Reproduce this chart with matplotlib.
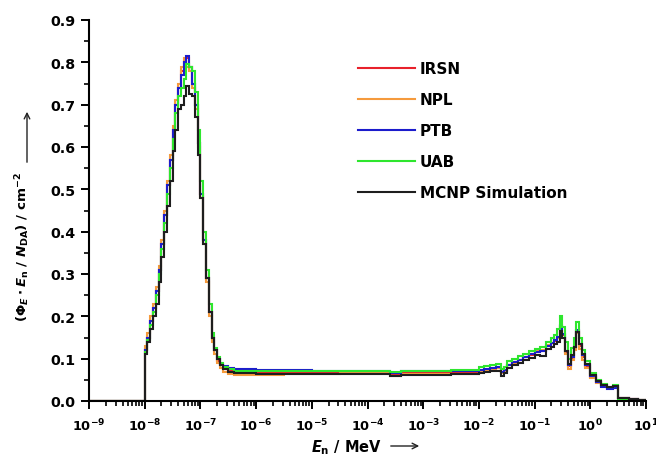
import numpy as np
import matplotlib
matplotlib.use('Agg')
import matplotlib.pyplot as plt
from matplotlib.ticker import LogLocator, MultipleLocator, FuncFormatter, NullFormatter

plt.rcParams['font.family'] = ['DejaVu Sans']
plt.rcParams['font.weight'] = 'bold'
plt.rcParams['mathtext.fontset'] = 'custom'
plt.rcParams['mathtext.rm'] = 'DejaVu Sans:bold'
plt.rcParams['mathtext.it'] = 'DejaVu Sans:italic:bold'
plt.rcParams['mathtext.bf'] = 'DejaVu Sans:bold'

# bin edges, log10(E / MeV)
log_edges = [-9.0,
             -8.0, -7.95, -7.9, -7.85, -7.8, -7.75, -7.7, -7.65, -7.6, -7.55,
             -7.5, -7.45, -7.4, -7.35, -7.3, -7.25, -7.2, -7.15, -7.1, -7.05,
             -7.0, -6.95, -6.9, -6.85, -6.8, -6.75, -6.7, -6.65,
             -6.6, -6.5, -6.4, -6.2, -6.0, -5.5, -5.0, -4.5, -4.0, -3.6, -3.4,
             -3.0, -2.5,
             -2.0, -1.9, -1.8, -1.7, -1.6, -1.55, -1.5, -1.4, -1.3, -1.2, -1.1,
             -1.0, -0.9, -0.8, -0.7, -0.65, -0.6, -0.55, -0.5, -0.45, -0.4,
             -0.35, -0.3, -0.25, -0.2, -0.15, -0.1, 0.0, 0.1, 0.2, 0.3, 0.4,
             0.5, 0.7, 0.85, 1.0]

irsn = [0.0,
        0.12, 0.15, 0.19, 0.22, 0.26, 0.31, 0.37, 0.44, 0.51, 0.57,
        0.64, 0.70, 0.74, 0.78, 0.80, 0.81, 0.79, 0.75, 0.70, 0.61,
        0.49, 0.38, 0.29, 0.21, 0.15, 0.12, 0.095, 0.085,
        0.076, 0.071, 0.069, 0.068, 0.068, 0.068, 0.068, 0.068, 0.068, 0.063, 0.067,
        0.067, 0.068,
        0.072, 0.074, 0.076, 0.079, 0.068, 0.072, 0.085, 0.091, 0.097, 0.103, 0.109,
        0.115, 0.118, 0.130, 0.136, 0.142, 0.150, 0.178, 0.155, 0.115, 0.082,
        0.102, 0.125, 0.165, 0.130, 0.104, 0.082, 0.057, 0.044, 0.035, 0.030, 0.033,
        0.007, 0.004, 0.002]

npl = [0.0,
       0.13, 0.16, 0.20, 0.23, 0.27, 0.32, 0.38, 0.45, 0.52, 0.58,
       0.65, 0.71, 0.75, 0.79, 0.81, 0.79, 0.78, 0.74, 0.69, 0.60,
       0.48, 0.37, 0.28, 0.20, 0.14, 0.11, 0.09, 0.078,
       0.068, 0.064, 0.062, 0.062, 0.062, 0.063, 0.064, 0.065, 0.065, 0.060, 0.064,
       0.064, 0.064,
       0.070, 0.072, 0.074, 0.077, 0.066, 0.070, 0.084, 0.090, 0.097, 0.104, 0.110,
       0.117, 0.120, 0.132, 0.138, 0.143, 0.150, 0.175, 0.150, 0.110, 0.075,
       0.098, 0.120, 0.160, 0.122, 0.098, 0.078, 0.055, 0.043, 0.036, 0.031, 0.036,
       0.008, 0.005, 0.003]

ptb = [0.0,
       0.12, 0.15, 0.19, 0.22, 0.26, 0.31, 0.37, 0.44, 0.51, 0.57,
       0.64, 0.70, 0.74, 0.77, 0.80, 0.815, 0.79, 0.75, 0.70, 0.61,
       0.49, 0.38, 0.29, 0.21, 0.15, 0.12, 0.10, 0.088,
       0.082, 0.078, 0.076, 0.075, 0.074, 0.073, 0.072, 0.071, 0.071, 0.066, 0.070,
       0.070, 0.071,
       0.074, 0.076, 0.078, 0.080, 0.069, 0.073, 0.086, 0.092, 0.098, 0.104, 0.110,
       0.116, 0.118, 0.130, 0.137, 0.143, 0.152, 0.180, 0.158, 0.118, 0.085,
       0.105, 0.128, 0.168, 0.135, 0.108, 0.084, 0.058, 0.044, 0.034, 0.028, 0.030,
       0.006, 0.004, 0.002]

uab = [0.0,
       0.115, 0.145, 0.18, 0.21, 0.25, 0.30, 0.36, 0.42, 0.49, 0.55,
       0.62, 0.68, 0.72, 0.74, 0.76, 0.795, 0.79, 0.78, 0.73, 0.64,
       0.52, 0.40, 0.31, 0.23, 0.16, 0.125, 0.105, 0.09,
       0.080, 0.075, 0.072, 0.071, 0.071, 0.071, 0.071, 0.072, 0.072, 0.068, 0.072,
       0.072, 0.074,
       0.080, 0.082, 0.084, 0.088, 0.076, 0.080, 0.095, 0.100, 0.106, 0.112, 0.118,
       0.124, 0.128, 0.140, 0.148, 0.155, 0.170, 0.200, 0.175, 0.140, 0.100,
       0.125, 0.150, 0.186, 0.150, 0.120, 0.095, 0.066, 0.050, 0.040, 0.034, 0.037,
       0.005, 0.003, 0.002]

mcnp = [0.0,
        0.11, 0.14, 0.17, 0.20, 0.23, 0.28, 0.34, 0.40, 0.46, 0.52,
        0.59, 0.64, 0.69, 0.70, 0.72, 0.745, 0.725, 0.72, 0.67, 0.58,
        0.48, 0.37, 0.29, 0.21, 0.15, 0.12, 0.10, 0.085,
        0.075, 0.069, 0.066, 0.065, 0.064, 0.064, 0.063, 0.063, 0.063, 0.058, 0.062,
        0.062, 0.063,
        0.066, 0.068, 0.070, 0.072, 0.060, 0.065, 0.078, 0.084, 0.090, 0.096, 0.102,
        0.108, 0.106, 0.122, 0.128, 0.134, 0.140, 0.166, 0.150, 0.118, 0.087,
        0.108, 0.128, 0.163, 0.135, 0.110, 0.088, 0.062, 0.048, 0.038, 0.032, 0.036,
        0.006, 0.004, 0.002]

labels = ['IRSN', 'NPL', 'PTB', 'UAB', 'MCNP Simulation']
colors = ['#e8212b', '#f59a3c', '#1c1ccc', '#2ee62e', '#1e1e1e']

edges = 10 ** np.array(log_edges)

fig = plt.figure(figsize=(6.56, 4.6), dpi=100)
ax = fig.add_axes([89/656, 1 - 402/460, (646 - 89)/656, (402 - 21)/460])

for vals, lab, c in zip([irsn, npl, ptb, uab, mcnp], labels, colors):
    ax.stairs(vals, edges, baseline=None, color=c, lw=1.5, label=lab)

ax.set_xscale('log')
ax.set_xlim(1e-9, 1e1)
ax.set_ylim(0, 0.9)

ax.xaxis.set_major_locator(LogLocator(base=10, numticks=20))
ax.xaxis.set_minor_locator(LogLocator(base=10, subs=np.arange(2, 10), numticks=200))
ax.xaxis.set_minor_formatter(NullFormatter())
ax.xaxis.set_major_formatter(FuncFormatter(
    lambda v, p: r'$\mathbf{10^{%d}}$' % int(round(np.log10(v)))))
ax.yaxis.set_major_locator(MultipleLocator(0.1))
ax.yaxis.set_minor_locator(MultipleLocator(0.05))
ax.yaxis.set_major_formatter(FuncFormatter(lambda v, p: f'{v:.1f}'))

for s in ['top', 'right']:
    ax.spines[s].set_visible(False)
for s in ['left', 'bottom']:
    ax.spines[s].set_linewidth(1.5)
ax.tick_params(which='major', direction='out', length=6, width=1.4, pad=4)
ax.tick_params(axis='y', which='major', labelsize=10.2)
ax.tick_params(axis='x', which='major', labelsize=9.3, pad=5)
ax.tick_params(which='minor', direction='out', length=3.5, width=1.2)

leg = ax.legend(loc='upper left', bbox_to_anchor=(358/656, 1 - 62/460),
                bbox_transform=fig.transFigure, frameon=False, borderpad=0,
                borderaxespad=0, handlelength=3.7, handletextpad=0.35,
                labelspacing=1.05, prop={'size': 11, 'weight': 'bold'})

# axis titles with arrows
fig.text(23/656, 1 - 247/460,
         r'$(\mathit{\Phi}_{\mathit{E}}\cdot\mathit{E}_\mathrm{n}\ /\ \mathit{N}_\mathrm{DA})\ /\ \mathrm{cm}^{-2}$',
         rotation=90, ha='center', va='center', fontsize=9.6)
ax.annotate('', xy=(27/656, 1 - 110/460), xytext=(27/656, 1 - 166/460),
            xycoords='figure fraction', textcoords='figure fraction',
            arrowprops=dict(arrowstyle='->', lw=1.0, color='#222222'))
fig.text(346/656, 1 - 448/460, r'$\mathit{E}_\mathrm{n}\ /\ \mathrm{MeV}$',
         ha='center', va='center', fontsize=10.5)
ax.annotate('', xy=(422/656, 1 - 447/460), xytext=(388/656, 1 - 447/460),
            xycoords='figure fraction', textcoords='figure fraction',
            arrowprops=dict(arrowstyle='->', lw=1.0, color='#222222'))

fig.savefig('out.png', dpi=100)
